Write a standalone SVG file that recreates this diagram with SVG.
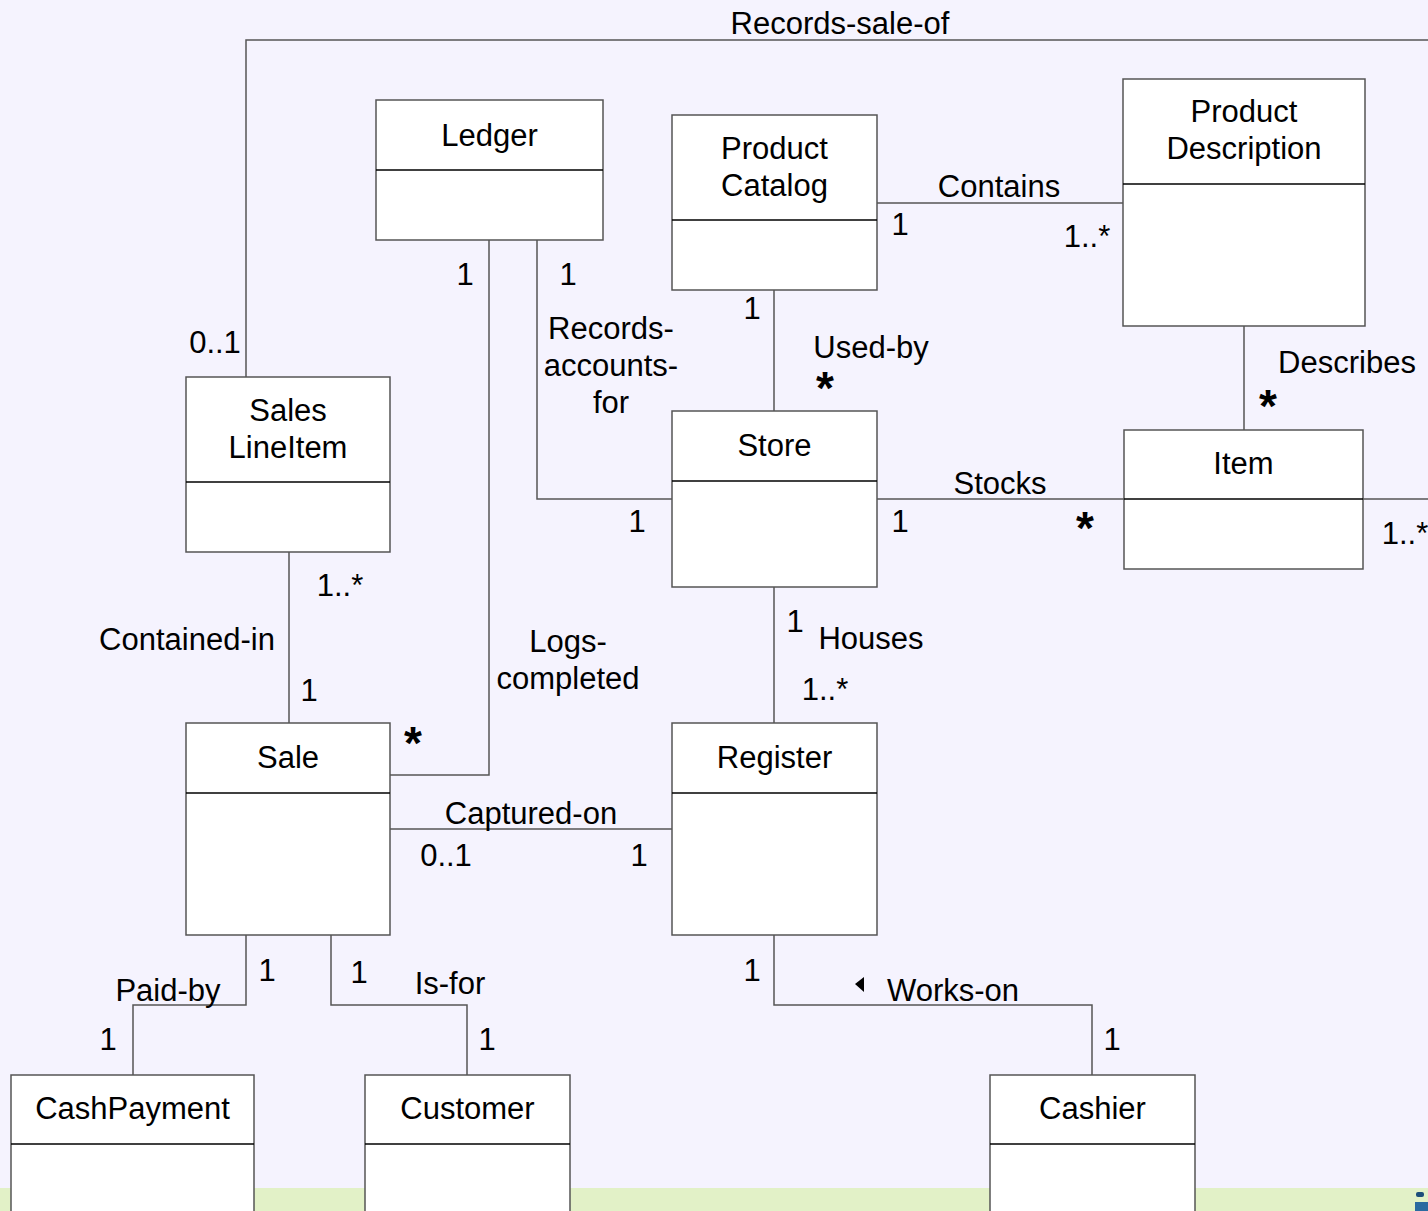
<svg xmlns="http://www.w3.org/2000/svg" width="1428" height="1211" viewBox="0 0 1428 1211">
  <style>
    text { font-family: "Liberation Sans", Arial, sans-serif; font-size: 31px; fill: #000; }
    .c { text-anchor: middle; }
    .star { font-weight: bold; font-size: 46px; text-anchor: middle; }
    .box { fill: #fff; stroke: #555; stroke-width: 1.5; }
    .div { stroke: #000; stroke-width: 1.5; }
    .conn { fill: none; stroke: #555; stroke-width: 1.5; }
  </style>

  <!-- page background with footer band -->
  <rect x="0" y="0" width="1428" height="1211" fill="#f5f3fe"/>
  <rect x="0" y="1188" width="1428" height="23" fill="#e2f1c7"/>
  <!-- corner logo fragment -->
  <rect x="1416" y="1192" width="8" height="5" rx="2" fill="#1d4e7a"/>
  <rect x="1415" y="1202" width="13" height="9" fill="#2a6aa0"/>

  <!-- associations -->
  <g id="connectors">
    <polyline class="conn" points="246,377 246,40 1428,40"/>
    <polyline class="conn" points="489,240 489,775 390,775"/>
    <polyline class="conn" points="537,240 537,499 672,499"/>
    <line class="conn" x1="877" y1="203" x2="1123" y2="203"/>
    <line class="conn" x1="774" y1="290" x2="774" y2="411"/>
    <line class="conn" x1="1244" y1="326" x2="1244" y2="430"/>
    <line class="conn" x1="877" y1="499" x2="1124" y2="499"/>
    <line class="conn" x1="1363" y1="499" x2="1428" y2="499"/>
    <line class="conn" x1="289" y1="552" x2="289" y2="723"/>
    <line class="conn" x1="774" y1="587" x2="774" y2="723"/>
    <line class="conn" x1="390" y1="829" x2="672" y2="829"/>
    <polyline class="conn" points="246,935 246,1005 133,1005 133,1075"/>
    <polyline class="conn" points="331,935 331,1005 467,1005 467,1075"/>
    <polyline class="conn" points="774,935 774,1005 1092,1005 1092,1075"/>
  </g>

  <!-- association labels and multiplicities -->
  <g id="labels">
    <text class="c" x="840" y="34">Records-sale-of</text>
    <text class="c" x="215" y="353">0..1</text>

    <text class="c" x="465" y="285">1</text>
    <text class="c" x="568" y="285">1</text>
    <text class="c" x="611" y="339">Records-</text>
    <text class="c" x="611" y="376">accounts-</text>
    <text class="c" x="611" y="413">for</text>
    <text class="c" x="637" y="532">1</text>

    <text class="c" x="999" y="197">Contains</text>
    <text class="c" x="900" y="235">1</text>
    <text class="c" x="1087" y="247">1..*</text>

    <text class="c" x="752" y="319">1</text>
    <text class="c" x="871" y="358">Used-by</text>
    <text class="star" x="825" y="404">*</text>

    <text class="c" x="1347" y="373">Describes</text>
    <text class="star" x="1268" y="422">*</text>

    <text class="c" x="1000" y="494">Stocks</text>
    <text class="c" x="900" y="532">1</text>
    <text class="star" x="1085" y="544">*</text>
    <text class="c" x="1405" y="544">1..*</text>

    <text class="c" x="340" y="596">1..*</text>
    <text class="c" x="187" y="650">Contained-in</text>
    <text class="c" x="309" y="701">1</text>

    <text class="c" x="568" y="652">Logs-</text>
    <text class="c" x="568" y="689">completed</text>
    <text class="star" x="413" y="759">*</text>

    <text class="c" x="795" y="632">1</text>
    <text class="c" x="871" y="649">Houses</text>
    <text class="c" x="825" y="700">1..*</text>

    <text class="c" x="531" y="824">Captured-on</text>
    <text class="c" x="446" y="866">0..1</text>
    <text class="c" x="639" y="866">1</text>

    <text class="c" x="267" y="981">1</text>
    <text class="c" x="168" y="1001">Paid-by</text>
    <text class="c" x="108" y="1050">1</text>

    <text class="c" x="359" y="983">1</text>
    <text class="c" x="450" y="994">Is-for</text>
    <text class="c" x="487" y="1050">1</text>

    <text class="c" x="752" y="981">1</text>
    <polygon points="855,984 864,977 864,992" fill="#000"/>
    <text x="887" y="1001">Works-on</text>
    <text class="c" x="1112" y="1050">1</text>
  </g>

  <!-- classes -->
  <g id="ledger">
    <rect class="box" x="376" y="100" width="227" height="140"/>
    <line class="div" x1="376" y1="170" x2="603" y2="170"/>
    <text class="c" x="489.5" y="146">Ledger</text>
  </g>
  <g id="product-catalog">
    <rect class="box" x="672" y="115" width="205" height="175"/>
    <line class="div" x1="672" y1="220" x2="877" y2="220"/>
    <text class="c" x="774.5" y="159">Product</text>
    <text class="c" x="774.5" y="196">Catalog</text>
  </g>
  <g id="product-description">
    <rect class="box" x="1123" y="79" width="242" height="247"/>
    <line class="div" x1="1123" y1="184" x2="1365" y2="184"/>
    <text class="c" x="1244" y="122">Product</text>
    <text class="c" x="1244" y="159">Description</text>
  </g>
  <g id="sales-lineitem">
    <rect class="box" x="186" y="377" width="204" height="175"/>
    <line class="div" x1="186" y1="482" x2="390" y2="482"/>
    <text class="c" x="288" y="421">Sales</text>
    <text class="c" x="288" y="458">LineItem</text>
  </g>
  <g id="store">
    <rect class="box" x="672" y="411" width="205" height="176"/>
    <line class="div" x1="672" y1="481" x2="877" y2="481"/>
    <text class="c" x="774.5" y="456">Store</text>
  </g>
  <g id="item">
    <rect class="box" x="1124" y="430" width="239" height="139"/>
    <line class="div" x1="1124" y1="499" x2="1363" y2="499"/>
    <text class="c" x="1243.5" y="474">Item</text>
  </g>
  <g id="sale">
    <rect class="box" x="186" y="723" width="204" height="212"/>
    <line class="div" x1="186" y1="793" x2="390" y2="793"/>
    <text class="c" x="288" y="768">Sale</text>
  </g>
  <g id="register">
    <rect class="box" x="672" y="723" width="205" height="212"/>
    <line class="div" x1="672" y1="793" x2="877" y2="793"/>
    <text class="c" x="774.5" y="768">Register</text>
  </g>
  <g id="cash-payment">
    <rect class="box" x="11" y="1075" width="243" height="160"/>
    <line class="div" x1="11" y1="1144" x2="254" y2="1144"/>
    <text class="c" x="132.5" y="1119">CashPayment</text>
  </g>
  <g id="customer">
    <rect class="box" x="365" y="1075" width="205" height="160"/>
    <line class="div" x1="365" y1="1144" x2="570" y2="1144"/>
    <text class="c" x="467.5" y="1119">Customer</text>
  </g>
  <g id="cashier">
    <rect class="box" x="990" y="1075" width="205" height="160"/>
    <line class="div" x1="990" y1="1144" x2="1195" y2="1144"/>
    <text class="c" x="1092.5" y="1119">Cashier</text>
  </g>
</svg>
